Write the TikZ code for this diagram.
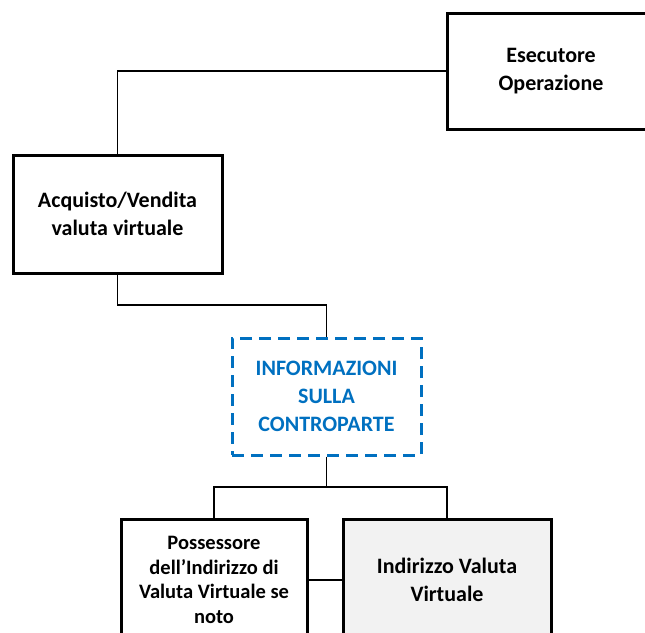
\documentclass[tikz,border=0pt]{standalone}
\usepackage{fontspec}
\setmainfont{Carlito}
\definecolor{infoblue}{RGB}{0,112,192}
\definecolor{boxgray}{RGB}{242,242,242}
\begin{document}
\begin{tikzpicture}[x=1pt,y=-1pt,
    box/.style={draw,line width=3pt,align=center,inner sep=0pt,
      font=\fontsize{22}{28}\selectfont\bfseries},
    dashbox/.style={box,draw=infoblue,text=infoblue,dash pattern=on 12pt off 7pt},
    smallbox/.style={box,font=\fontsize{20.5}{24.5}\selectfont\bfseries},
    link/.style={line width=1.6pt}]
      \useasboundingbox (0,0) rectangle (645,632);
      \draw
        (551,71) node[box,minimum width=208pt,minimum height=116pt] (esec){Esecutore\\Operazione}
        (117.5,214) node[box,minimum width=209pt,minimum height=118pt] (acq){Acquisto/Vendita\\valuta virtuale}
        (326.5,396.5) node[dashbox,minimum width=189pt,minimum height=117pt] (info){INFORMAZIONI\\SULLA\\CONTROPARTE}
        (214,580) node[smallbox,minimum width=186pt,minimum height=122pt] (poss){Possessore\\dell’Indirizzo di\\Valuta Virtuale se\\noto}
        (447,580) node[box,fill=boxgray,minimum width=208pt,minimum height=122pt] (ind){Indirizzo Valuta\\Virtuale};
      \coordinate (bend) at (117.5,305);
      \coordinate (split) at (326.5,487);
      \begin{scope}[link]
        \draw (esec.west) -| (acq.north);
        \draw (acq.south) -- (bend) -| (info.north);
        \draw (info.south) -- (split);
        \draw (split) -| (poss.north);
        \draw (split) -| (ind.north);
        \draw (poss.east) -- (ind.west);
      \end{scope}
    \end{tikzpicture}
\end{document}
